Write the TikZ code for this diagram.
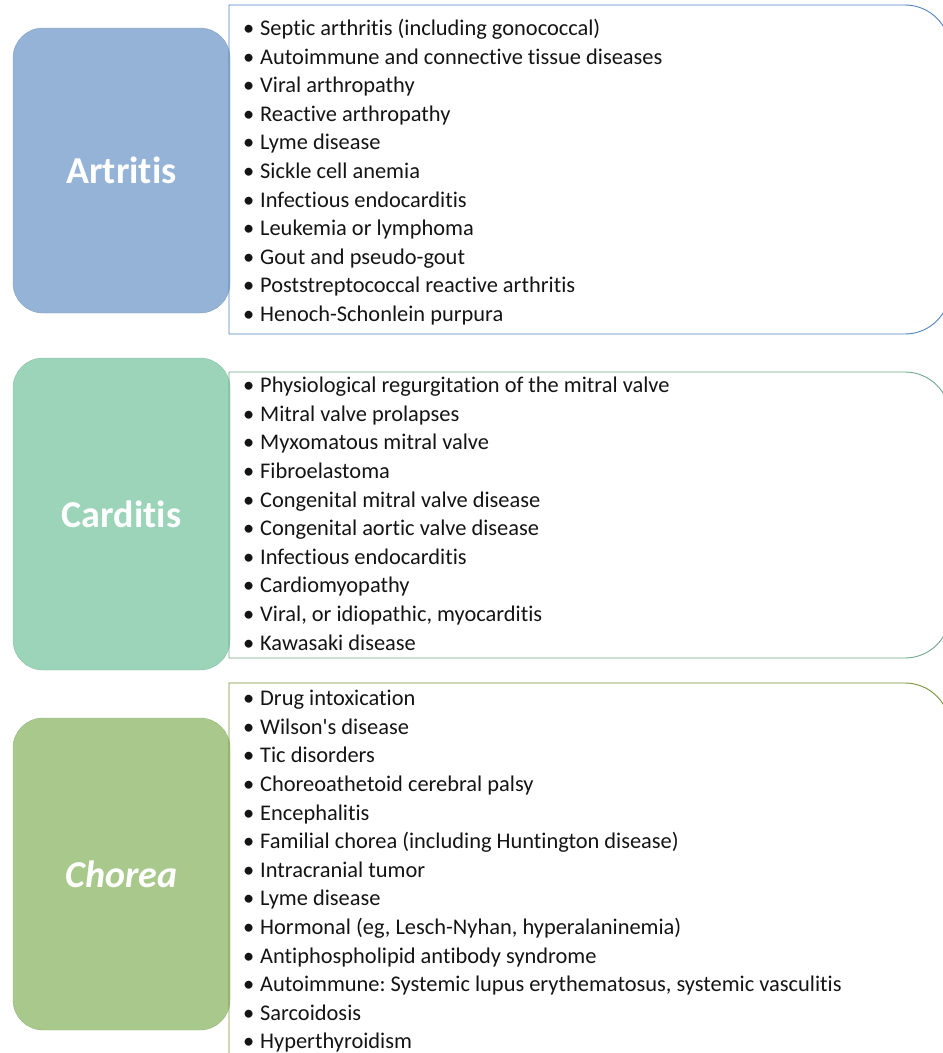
\documentclass[tikz,border=0pt]{standalone}
\usepackage{fontspec}
\setmainfont{Carlito}[Ligatures=NoCommon]
\usepackage{tikz}
\frenchspacing

\definecolor{artblue}{HTML}{95B3D7}
\definecolor{artline}{HTML}{4F81BD}
\definecolor{cardgreen}{HTML}{9BD4B9}
\definecolor{cardline}{HTML}{6FA88C}
\definecolor{chorgreen}{HTML}{A9C98C}
\definecolor{chorline}{HTML}{77933C}

\newcommand{\itm}{\makebox[17pt][l]{\textbullet}}

\tikzset{
  catbox/.style={rounded corners=30pt, minimum width=217pt, minimum height=312pt, inner sep=0pt,
    text=white, font=\fontsize{38}{40}\selectfont\bfseries},
  listtext/.style={anchor=north west, inner sep=0pt, align=left, text=black!92,
    font=\fontsize{22.4}{28.6}\selectfont},
  frame/.style={line width=0.9pt}
}

\begin{document}
\begin{tikzpicture}[x=1pt,y=-1pt]
\useasboundingbox (0,0) rectangle (943,1053);

% Artritis
\node[catbox, fill=artblue, draw=artblue!90!black, minimum height=285pt] (artritis) at (121.5,170.5) {Artritis};
\draw[frame, artline] (229,334) -- (229,5) [rounded corners=45pt] -- (950,5) -- (950,334) [sharp corners] -- cycle;
\node[listtext] (artlist) at (243,19) {\itm Septic arthritis (including gonococcal)\\
\itm Autoimmune and connective tissue diseases\\
\itm Viral arthropathy\\
\itm Reactive arthropathy\\
\itm Lyme disease\\
\itm Sickle cell anemia\\
\itm Infectious endocarditis\\
\itm Leukemia or lymphoma\\
\itm Gout and pseudo-gout\\
\itm Poststreptococcal reactive arthritis\\
\itm Henoch-Schonlein purpura};

% Carditis
\node[catbox, fill=cardgreen, draw=cardgreen!90!black] (carditis) at (121.5,514) {Carditis};
\draw[frame, cardline] (229,658) -- (229,372) [rounded corners=45pt] -- (950,372) -- (950,658) [sharp corners] -- cycle;
\node[listtext] (cardlist) at (243,377) {\itm Physiological regurgitation of the mitral valve\\
\itm Mitral valve prolapses\\
\itm Myxomatous mitral valve\\
\itm Fibroelastoma\\
\itm Congenital mitral valve disease\\
\itm Congenital aortic valve disease\\
\itm Infectious endocarditis\\
\itm Cardiomyopathy\\
\itm Viral, or idiopathic, myocarditis\\
\itm Kawasaki disease};

% Chorea
\node[catbox, fill=chorgreen, draw=chorgreen!90!black, font=\fontsize{38}{40}\selectfont\bfseries\itshape] (chorea) at (121.5,874) {Chorea};
\draw[frame, chorline] (229,1090) -- (229,683) [rounded corners=45pt] -- (950,683) -- (950,1090) [sharp corners] -- cycle;
\node[listtext] (chorlist) at (243,690) {\itm Drug intoxication\\
\itm Wilson\textquotesingle s disease\\
\itm Tic disorders\\
\itm Choreoathetoid cerebral palsy\\
\itm Encephalitis\\
\itm Familial chorea (including Huntington disease)\\
\itm Intracranial tumor\\
\itm Lyme disease\\
\itm Hormonal (eg, Lesch-Nyhan, hyperalaninemia)\\
\itm Antiphospholipid antibody syndrome\\
\itm Autoimmune: Systemic lupus erythematosus, systemic vasculitis\\
\itm Sarcoidosis\\
\itm Hyperthyroidism};

\end{tikzpicture}
\end{document}
